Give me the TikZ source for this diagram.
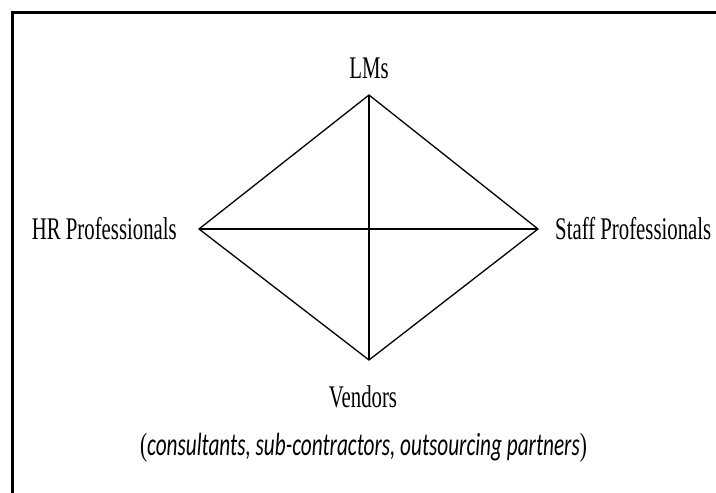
\documentclass[tikz,border=0pt]{standalone}
\usepackage{fontspec}
\setmainfont[FakeStretch=0.66]{Liberation Serif}
\newfontfamily\vendorfont[FakeStretch=0.66]{Carlito}
\usetikzlibrary{positioning}
\begin{document}
\begin{tikzpicture}[x=1pt,y=-1pt]
\tikzstyle{every node}+=[inner sep=0pt]
\tikzstyle{party}=[font=\fontsize{31.5}{31.5}\selectfont]
\tikzstyle{edge}=[black,line width=1.3pt]
\useasboundingbox (0,0) rectangle (716,493);
\fill [white] (0,0) rectangle (716,493);
\draw [black,line width=3pt] (716,12) -- (12,12) -- (12,493);
\coordinate (lms) at (369,95);
\coordinate (hr) at (199,229);
\coordinate (staff) at (538,229);
\coordinate (vend) at (369,360);
\draw [edge] (lms) -- (staff) -- (vend) -- (hr) -- cycle;
\draw [edge] (lms) -- (vend);
\draw [edge] (hr) -- (staff);
\node [party,anchor=base] (lmslbl) at (369,78) {LMs};
\node [party,anchor=base east] (hrlbl) at (177,239) {HR Professionals};
\node [party,anchor=base west] (stafflbl) at (555,239) {Staff Professionals};
\node [party,anchor=base] (vendlbl) at (363,407) {Vendors};
\node [party,font=\fontsize{32.2}{32.2}\selectfont,anchor=base] (vendnote) at (363.5,455) {(\vendorfont\itshape consultants, sub-contractors, outsourcing partners\normalfont)};
\end{tikzpicture}
\end{document}
